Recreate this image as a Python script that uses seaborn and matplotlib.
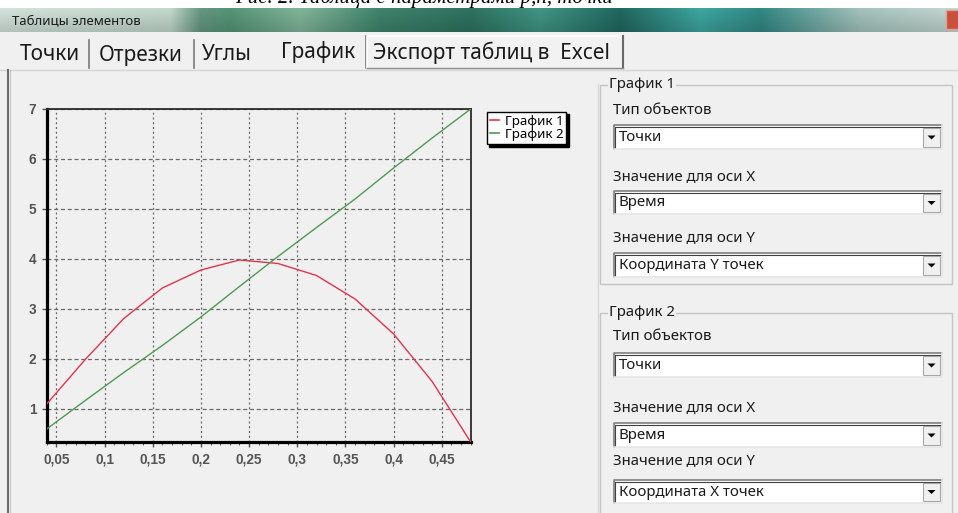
import numpy as np
import pandas as pd
import matplotlib
matplotlib.use('Agg')
import matplotlib.pyplot as plt
import seaborn as sns
from matplotlib.patches import Rectangle, Polygon
from matplotlib.ticker import FuncFormatter, MultipleLocator

# данные графиков (время, координаты точки)
t = [0.04, 0.08, 0.12, 0.16, 0.20, 0.24, 0.28, 0.32, 0.36, 0.40, 0.44, 0.48]
coord_y = [1.10, 1.99, 2.81, 3.42, 3.78, 3.98, 3.91, 3.67, 3.20, 2.50, 1.55, 0.34]
coord_x = [0.60, 1.17, 1.73, 2.27, 2.84, 3.45, 4.05, 4.63, 5.20, 5.82, 6.42, 7.00]
series_names = ['График 1', 'График 2']
x_ticks = [0.05, 0.1, 0.15, 0.2, 0.25, 0.3, 0.35, 0.4, 0.45]
y_ticks = [1, 2, 3, 4, 5, 6, 7]

# тексты окна
caption = 'Рис. 2. Таблица с параметрами р,п, точки'
window_title = 'Таблицы элементов'
tab_names = ['Точки', 'Отрезки', 'Углы', 'График', 'Экспорт таблиц в  Excel']
group_titles = ['График 1', 'График 2']
field_labels = ['Тип объектов', 'Значение для оси X', 'Значение для оси Y']
group1_values = ['Точки', 'Время', 'Координата Y точек']
group2_values = ['Точки', 'Время', 'Координата X точек']

W, H = 958, 513
BG = '#f0f0f0'
UI_FONT = ['Noto Sans', 'DejaVu Sans']
plt.rcParams['font.family'] = UI_FONT

fig = plt.figure(figsize=(W / 100, H / 100), dpi=100, facecolor=BG)

# слой интерфейса в пикселях
ui = fig.add_axes([0, 0, 1, 1], zorder=0)
ui.set_xlim(0, W)
ui.set_ylim(H, 0)
ui.axis('off')

# подпись сверху (обрезана краем скриншота)
ui.add_patch(Rectangle((0, 0), W, 8, fc='white', ec='none', zorder=1))
ui.text(235, 7.5, caption, fontsize=15, style='italic', family='Liberation Serif',
        va='bottom', ha='left', color='black', zorder=1.5)

# заголовок окна с градиентом
stops_x = [0, 170, 200, 230, 300, 380, 470, 540, 620, 700, 760, 860, 958]
stops_c = ['#c4d2cc', '#b4c8bc', '#5e8c78', '#4e8a6e', '#78a88e', '#3a7a64', '#2a6a58',
           '#3c8a7a', '#1e6058', '#3a9a94', '#2e7e7a', '#98b4ae', '#b8c8c4']
rgb = np.array([matplotlib.colors.to_rgb(c) for c in stops_c])
xs = np.arange(W)
grad = np.stack([np.interp(xs, stops_x, rgb[:, k]) for k in range(3)], axis=-1)
grad = np.repeat(grad[None, :, :], 24, axis=0)
shade = np.linspace(1.08, 0.92, 24)[:, None, None]
grad = np.clip(grad * shade, 0, 1)
ui.imshow(grad, extent=(0, W, 32, 8), aspect='auto', zorder=2)
ui.set_xlim(0, W)
ui.set_ylim(H, 0)
ui.text(12, 20.5, window_title, fontsize=9.5, va='center', color='#1a1a1a', zorder=3)
ui.add_patch(Rectangle((946, 10), 14, 19, fc='#c8503c', ec='#e0a090', lw=1, zorder=3))

# вкладки
ui.plot([0, W], [69.5, 69.5], color='#d4d4d4', lw=1, zorder=2)
tab_x = [20, 99, 202, 281, 373]
tab_y = [55, 55, 55, 52, 53]
for name, x0, y0 in zip(tab_names, tab_x, tab_y):
    ui.text(x0, y0, name, fontsize=15, va='center', ha='left', color='#1a1a1a', zorder=3)
for sx in [89, 194]:
    ui.plot([sx, sx], [40, 68], color='#7a7a7a', lw=1.2, zorder=3)
ui.plot([366, 366], [36, 68], color='#7a7a7a', lw=1.2, zorder=3)
ui.add_patch(Rectangle((367, 36), 256, 32, fc='#f2f2f2', ec='none', zorder=2.5))
ui.plot([367, 367, 623], [68, 36, 36], color='#ffffff', lw=1.2, zorder=3)
ui.plot([623, 623], [36, 68], color='#6a6a6a', lw=1.5, zorder=3)
ui.plot([367, 623], [68, 68], color='#8a8a8a', lw=1, zorder=3)

# рамки панели графика
ui.plot([8, 8], [70, H], color='#6a6a6a', lw=1.5, zorder=3)
ui.plot([10, 10], [70, H], color='#c8c8c8', lw=0.8, zorder=3)
ui.plot([598, 598], [84, H], color='#d8d8d8', lw=1, zorder=3)


def group_box(top, bottom, title):
    ui.add_patch(Rectangle((600, top), 352, bottom - top, fill=False,
                           ec='#c4c4c4', lw=1, zorder=3))
    ui.text(609, top, title, fontsize=10.8, va='center', ha='left', color='#1a1a1a',
            zorder=4, bbox=dict(fc=BG, ec='none', pad=0.5))


def combo(y0, y1, text):
    h = y1 - y0
    ui.add_patch(Rectangle((614, y0), 328, h, fc='white', ec='none', zorder=3))
    ui.plot([614, 614, 942], [y1, y0, y0], color='#7e7e7e', lw=1.2, zorder=4)
    ui.plot([615.5, 615.5, 941], [y1 - 1, y0 + 1.5, y0 + 1.5], color='#404040', lw=0.8, zorder=4)
    ui.plot([614, 942, 942], [y1, y1, y0], color='#e6e6e6', lw=1.2, zorder=4)
    ui.add_patch(Rectangle((923, y0 + 2.5), 17, h - 5, fc='#f0f0f0', ec='#a8a8a8',
                           lw=0.8, zorder=4))
    cx, cy = 931.5, (y0 + y1) / 2
    ui.add_patch(Polygon([[cx - 4, cy - 1.5], [cx + 4, cy - 1.5], [cx, cy + 2.5]],
                         closed=True, fc='black', ec='none', zorder=5))
    ui.text(619, cy + 0.5, text, fontsize=10.8, va='center', ha='left', color='#1a1a1a',
            zorder=5)


group_box(85, 284, group_titles[0])
label_y1 = [110, 177, 238]
combo_y1 = [(125, 149), (191, 214), (253, 277)]
for lab, ly, (c0, c1), val in zip(field_labels, label_y1, combo_y1, group1_values):
    ui.text(613, ly, lab, fontsize=10.8, va='center', ha='left', color='#1a1a1a', zorder=4)
    combo(c0, c1, val)

group_box(313, H + 20, group_titles[1])
label_y2 = [337, 408, 461]
combo_y2 = [(353, 377), (423, 447), (480, 503)]
for lab, ly, (c0, c1), val in zip(field_labels, label_y2, combo_y2, group2_values):
    ui.text(613, ly, lab, fontsize=10.8, va='center', ha='left', color='#1a1a1a', zorder=4)
    combo(c0, c1, val)

# сам график
left, right, top, bottom = 46.7, 470.7, 109, 442
ax = fig.add_axes([left / W, 1 - bottom / H, (right - left) / W, (bottom - top) / H], zorder=5)
ax.set_facecolor(BG)

df = pd.DataFrame({
    't': t + t,
    'val': coord_y + coord_x,
    'series': [series_names[0]] * len(t) + [series_names[1]] * len(t),
})
sns.lineplot(data=df, x='t', y='val', hue='series', palette=['#e2344e', '#4f9a52'],
             estimator=None, sort=False, lw=1.0, ax=ax, zorder=3)

ax.set_xlim(0.04, 0.48)
ax.set_ylim(0.34, 7.0)
ax.set_xticks(x_ticks)
ax.set_yticks(y_ticks)
ax.xaxis.set_minor_locator(MultipleLocator(0.01))
ax.xaxis.set_major_formatter(FuncFormatter(lambda v, p: ('%g' % round(v, 2)).replace('.', ',')))
ax.set_xlabel('')
ax.set_ylabel('')

ax.xaxis.grid(True, linestyle=(0, (1.6, 2.2)), color='#6a6a6a', lw=0.9)
ax.yaxis.grid(True, linestyle=(0, (3.2, 2.2)), color='#6a6a6a', lw=0.9)
ax.set_axisbelow(True)

for s in ['left', 'bottom']:
    ax.spines[s].set_color('black')
    ax.spines[s].set_linewidth(2.3)
for s in ['top', 'right']:
    ax.spines[s].set_color('#2a2a2a')
    ax.spines[s].set_linewidth(1.3)

ax.tick_params(axis='both', which='major', length=3.5, width=1, color='#555555',
               labelsize=9.8, labelcolor='#555555', pad=4,
               labelfontfamily='Liberation Sans')
ax.tick_params(axis='x', which='minor', length=2, width=0.8, color='#666666')
for tk in ax.xaxis.get_major_ticks() + ax.yaxis.get_major_ticks():
    tk.label1.set_fontweight('bold')

handles, labels = ax.get_legend_handles_labels()
leg = ax.legend(handles, labels, loc='upper left',
                bbox_to_anchor=(486.5 / W, 1 - 111.5 / H), bbox_transform=fig.transFigure,
                frameon=True, fancybox=False, edgecolor='black', facecolor='white',
                framealpha=1, shadow={'color': 'black', 'alpha': 1},
                fontsize=9.6, handlelength=0.7, handletextpad=0.4, borderpad=0.25,
                labelspacing=0.0, borderaxespad=0)
leg.get_frame().set_linewidth(1.0)
for line in leg.get_lines():
    line.set_linewidth(1.2)

fig.savefig('out.png', dpi=100, facecolor=BG)
